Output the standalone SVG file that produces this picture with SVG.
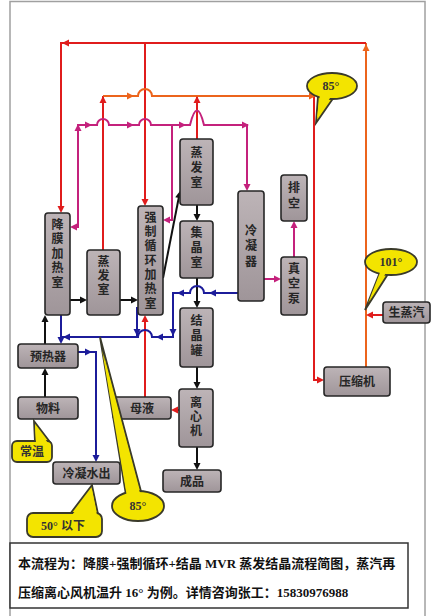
<svg xmlns="http://www.w3.org/2000/svg" xmlns:xlink="http://www.w3.org/1999/xlink" width="434" height="616" viewBox="0 0 434 616">
<defs>
<linearGradient id="ng" x1="0" y1="0" x2="0" y2="1">
<stop offset="0" stop-color="#bdb4b7"/>
<stop offset="1" stop-color="#9f9599"/>
</linearGradient>
<path id="ah" d="M0,0 L-7,-3.5 L-7,3.5 Z"/>
<style>
.n{fill:url(#ng);stroke:#262626;stroke-width:1.6}
.t{font-family:"Noto Sans CJK SC","Noto Sans",sans-serif;font-size:12px;fill:#262626;font-weight:bold;text-anchor:middle}
.v{writing-mode:vertical-rl;letter-spacing:2.5px}
.c{fill:none;stroke-width:2;stroke-linejoin:miter}
.red{stroke:#e01c1c}.ora{stroke:#ec641c}.mag{stroke:#c4217c}.blu{stroke:#1c1c9a}.blk{stroke:#111}
.fr{fill:#e01c1c}.fo{fill:#ec641c}.fm{fill:#c4217c}.fb{fill:#1c1c9a}.fk{fill:#111}
.ys{fill:#f3e400;stroke:#3a3a2a;stroke-width:1.8}
.yf{fill:#f3e400}
.ct{font-family:"Liberation Serif","Noto Sans CJK SC",serif;font-size:12px;font-weight:bold;fill:#333;text-anchor:middle}
.bt{font-family:"Liberation Serif","Noto Sans CJK SC",serif;font-size:13px;font-weight:bold;fill:#111}
</style>
</defs>
<rect x="0" y="0" width="434" height="616" fill="#fff"/>
<rect x="10" y="1.5" width="415" height="640" fill="none" stroke="#a0a0a0" stroke-width="1.5"/>

<g id="connectors">
<path class="c ora" d="M366,367 L366,43"/>
<path class="c red" d="M366,43 L61,43 L61,211"/>
<path class="c red" d="M145,43 L145,204"/>
<path class="c red" d="M103,250 L103,96"/>
<path class="c red" d="M197,139 L197,96"/>
<path class="c ora" d="M103,96 L138,96 A7,7 0 0 1 152,96 L314,96"/>
<path class="c red" d="M314,96 L314,380 L322,380"/>
<path class="c red" d="M383,315 L368,315"/>
<path class="c red" d="M145,397 L145,317"/>
<path class="c red" d="M179,410 L173,410" stroke="#b01818"/>
<path class="c mag" d="M72,227 L78,227 L78,125 L97,125 A6,6 0 0 1 109,125 L139,125 A6,6 0 0 1 151,125 L190,125 Q197,96 204,125 L247,125 L247,189"/>
<path class="c mag" d="M165,220 L172,220 L172,125"/>
<path class="c mag" d="M264,279 L279,279"/>
<path class="c mag" d="M294,257 L294,223"/>
<path class="c blk" d="M45,397 L45,370"/>
<path class="c blk" d="M45,344 L45,317"/>
<path class="c blk" d="M70,300 L85,300"/>
<path class="c blk" d="M120,300 L136,300"/>
<path class="c blk" d="M163,278 L179.5,194"/>
<path class="c blk" d="M197,205 L197,219"/>
<path class="c blk" d="M197,278 L197,306"/>
<path class="c blk" d="M197,367 L197,387"/>
<path class="c blk" d="M197,447 L197,468"/>
<path class="c blu" d="M238,293 L204,293 A7,7 0 0 0 190,293 L173,293 L173,337 L152,337 A7,7 0 0 0 138,337 L61,337"/>
<path class="c blu" d="M61,315 L61,342"/>
<path class="c blu" d="M137,307 L137,337"/>
<path class="c blu" d="M78,352 L96,352 L96,460"/>
<use xlink:href="#ah" class="fo" transform="translate(366,44) rotate(-90)"/>
<use xlink:href="#ah" class="fr" transform="translate(62,43) rotate(180)"/>
<use xlink:href="#ah" class="fr" transform="translate(61,213) rotate(90)"/>
<use xlink:href="#ah" class="fr" transform="translate(145,206) rotate(90)"/>
<use xlink:href="#ah" class="fr" transform="translate(103,96) rotate(-90)"/>
<use xlink:href="#ah" class="fr" transform="translate(197,96) rotate(-90)"/>
<use xlink:href="#ah" class="fo" transform="translate(134,96)"/>
<use xlink:href="#ah" class="fo" transform="translate(316,96)"/>
<use xlink:href="#ah" class="fr" transform="translate(324,380)"/>
<use xlink:href="#ah" class="fr" transform="translate(366,315) rotate(180)"/>
<use xlink:href="#ah" class="fr" transform="translate(145,315) rotate(-90)"/>
<use xlink:href="#ah" class="fr" transform="translate(171,410) rotate(180)"/>
<use xlink:href="#ah" class="fm" transform="translate(70,227) rotate(180)"/>
<use xlink:href="#ah" class="fm" transform="translate(78,124) rotate(-90)"/>
<use xlink:href="#ah" class="fm" transform="translate(92,125)"/>
<use xlink:href="#ah" class="fm" transform="translate(134,125)"/>
<use xlink:href="#ah" class="fm" transform="translate(186,125)"/>
<use xlink:href="#ah" class="fm" transform="translate(249,125)"/>
<use xlink:href="#ah" class="fm" transform="translate(163,220) rotate(180)"/>
<use xlink:href="#ah" class="fm" transform="translate(247,191) rotate(90)"/>
<use xlink:href="#ah" class="fm" transform="translate(281,279)"/>
<use xlink:href="#ah" class="fm" transform="translate(294,221) rotate(-90)"/>
<use xlink:href="#ah" class="fk" transform="translate(45,368) rotate(-90)"/>
<use xlink:href="#ah" class="fk" transform="translate(45,315) rotate(-90)"/>
<use xlink:href="#ah" class="fk" transform="translate(87,300)"/>
<use xlink:href="#ah" class="fk" transform="translate(138,300)"/>
<use xlink:href="#ah" class="fk" transform="translate(180,191) rotate(-79)"/>
<use xlink:href="#ah" class="fk" transform="translate(197,221) rotate(90)"/>
<use xlink:href="#ah" class="fk" transform="translate(197,308) rotate(90)"/>
<use xlink:href="#ah" class="fk" transform="translate(197,389) rotate(90)"/>
<use xlink:href="#ah" class="fk" transform="translate(197,470) rotate(90)"/>
<use xlink:href="#ah" class="fb" transform="translate(209,293) rotate(180)"/>
<use xlink:href="#ah" class="fb" transform="translate(177,293) rotate(180)"/>
<use xlink:href="#ah" class="fb" transform="translate(173,336) rotate(90)"/>
<use xlink:href="#ah" class="fb" transform="translate(156,337) rotate(180)"/>
<use xlink:href="#ah" class="fb" transform="translate(63,337) rotate(180)"/>
<use xlink:href="#ah" class="fb" transform="translate(137,336) rotate(90)"/>
<use xlink:href="#ah" class="fb" transform="translate(61,344) rotate(90)"/>
<use xlink:href="#ah" class="fb" transform="translate(92,352)"/>
<use xlink:href="#ah" class="fb" transform="translate(96,462) rotate(90)"/>
</g>

<g id="n-jiangmo"><rect class="n" x="45" y="213" width="25" height="102" rx="3"/>
<text class="t v" x="57.5" y="254.5">降膜加热室</text></g>
<g id="n-zhengfa1"><rect class="n" x="87" y="250" width="33" height="65" rx="3"/>
<text class="t v" x="103.5" y="276.5" style="letter-spacing:2px">蒸发室</text></g>
<g id="n-qiangzhi"><rect class="n" x="138" y="206" width="25" height="109" rx="3"/>
<text class="t v" x="150.5" y="261.2" style="letter-spacing:2.3px">强制循环加热室</text></g>
<g id="n-zhengfa2"><rect class="n" x="180" y="139" width="33" height="66" rx="3"/>
<text class="t v" x="196.5" y="168.5" style="letter-spacing:3px">蒸发室</text></g>
<g id="n-jijing"><rect class="n" x="180" y="221" width="33" height="57" rx="3"/>
<text class="t v" x="196.5" y="248.5" style="letter-spacing:3px">集晶室</text></g>
<g id="n-jiejingguan"><rect class="n" x="180" y="308" width="33" height="59" rx="3"/>
<text class="t v" x="196.5" y="336.5" style="letter-spacing:3px">结晶罐</text></g>
<g id="n-lixinji"><rect class="n" x="179" y="389" width="34" height="58" rx="3"/>
<text class="t v" x="196" y="417" style="letter-spacing:2px">离心机</text></g>
<g id="n-chengpin"><rect class="n" x="163" y="470" width="58" height="22" rx="3"/>
<text class="t" x="192" y="485.5">成品</text></g>
<g id="n-muye"><rect class="n" x="113" y="397" width="58" height="22" rx="3"/>
<text class="t" x="142" y="412.5">母液</text></g>
<g id="n-yureqi"><rect class="n" x="18" y="344" width="60" height="24" rx="3"/>
<text class="t" x="48" y="360.5">预热器</text></g>
<g id="n-wuliao"><rect class="n" x="18" y="397" width="60" height="22" rx="3"/>
<text class="t" x="48" y="412.5">物料</text></g>
<g id="n-lengningshui"><rect class="n" x="53" y="462" width="67" height="22" rx="3"/>
<text class="t" x="86.5" y="477.5">冷凝水出</text></g>
<g id="n-lengningqi"><rect class="n" x="238" y="191" width="26" height="110" rx="3"/>
<text class="t v" x="251" y="247.5" style="letter-spacing:3.5px">冷凝器</text></g>
<g id="n-paikong"><rect class="n" x="281" y="175" width="26" height="46" rx="3"/>
<text class="t v" x="294" y="197" style="letter-spacing:4px">排空</text></g>
<g id="n-zhenkongbeng"><rect class="n" x="281" y="257" width="26" height="58" rx="3"/>
<text class="t v" x="294" y="284.5" style="letter-spacing:3px">真空泵</text></g>
<g id="n-yasuoji"><rect class="n" x="324" y="367" width="66" height="29" rx="3"/>
<text class="t" x="357" y="386">压缩机</text></g>
<g id="n-shengzhengqi"><rect class="n" x="383" y="302" width="47" height="21" rx="3"/>
<text class="t" x="406.5" y="317">生蒸汽</text></g>

<g id="callouts">
<g id="co-85a"><polygon class="ys" points="318,96 316,123 334,97"/><ellipse class="ys" cx="332" cy="86" rx="25" ry="13"/><polygon class="yf" points="320,94 317,118 332,95"/><text class="ct" x="331" y="90">85°</text></g>
<g id="co-101"><polygon class="ys" points="380,272 365,310 388,274"/><ellipse class="ys" cx="391" cy="262" rx="26" ry="13"/><polygon class="yf" points="381,270 368,303 387,271"/><text class="ct" x="391" y="266">101°</text></g>
<g id="co-85b"><polygon class="ys" points="100,337 126,495 142,495" stroke-width="1.2"/><ellipse class="ys" cx="138" cy="506" rx="26" ry="15"/><polygon class="yf" points="102,350 127,497 141,497"/><text class="ct" x="138" y="510">85°</text></g>
<g id="co-changwen"><polygon class="ys" points="34,421 35,442 50,442"/><rect class="ys" x="12" y="441" width="40" height="21" rx="5"/><polygon class="yf" points="35,425 36,443 48,443"/><text class="ct" x="32" y="456">常温</text></g>
<g id="co-50"><polygon class="ys" points="92,485 70,514 98,514"/><rect class="ys" x="27" y="513" width="75" height="24" rx="6"/><polygon class="yf" points="92,490 72,515 97,515"/><text class="ct" x="63" y="529.5">50°  以下</text></g>
</g>

<g id="note">
<rect x="10" y="543" width="398" height="65" fill="#fff" stroke="#333" stroke-width="1.5"/>
<text class="bt" x="18" y="568">本流程为：降膜+强制循环+结晶 MVR 蒸发结晶流程简图，蒸汽再</text>
<text class="bt" x="18" y="597">压缩离心风机温升 16° 为例。详情咨询张工：15830976988</text>
</g>
</svg>
